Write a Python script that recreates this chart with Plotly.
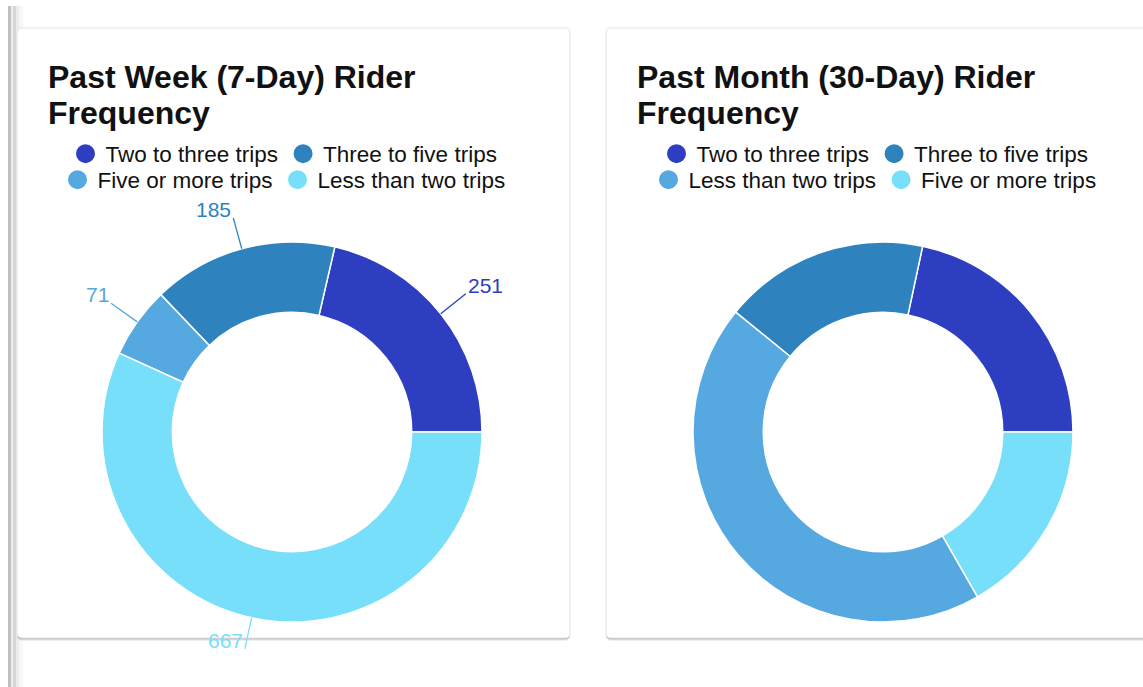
import math
import plotly.graph_objects as go

W, H = 1143, 687

# ---- data ----
week_labels = ["Two to three trips", "Three to five trips", "Five or more trips", "Less than two trips"]
week_values = [251, 185, 71, 667]
month_labels = ["Two to three trips", "Three to five trips", "Less than two trips", "Five or more trips"]
month_values = [254, 205, 518, 196]
slice_colors = ["#2d3ec0", "#2e83bf", "#56a8e0", "#77dffa"]
week_title = ["Past Week (7-Day) Rider", "Frequency"]
month_title = ["Past Month (30-Day) Rider", "Frequency"]

FONT = "Liberation Sans, Arial, Helvetica, sans-serif"


def fx(x):
    return x / W


def fy(y):
    return 1 - y / H


R = 190
HOLE = 0.63
centers = [(292, 432), (883, 432)]
cards = [(17, 28, 570, 638), (606, 28, 1170, 638)]

fig = go.Figure()

# donuts: first slice starts at 3 o'clock and runs counterclockwise
for (cx, cy), labels, values in zip(centers, [week_labels, month_labels], [week_values, month_values]):
    first_deg = values[0] / sum(values) * 360
    fig.add_trace(go.Pie(
        labels=labels, values=values, hole=HOLE, sort=False,
        direction="counterclockwise", rotation=90 - first_deg,
        marker=dict(colors=slice_colors, line=dict(color="white", width=1.5)),
        textinfo="none", showlegend=False,
        domain=dict(x=[fx(cx - R), fx(cx + R)], y=[fy(cy + R), fy(cy - R)]),
    ))

# legends (two rows per card)
legend_rows = [
    ("legend", 0, 154, week_labels[0:2], slice_colors[0:2]),
    ("legend2", 0, 180, week_labels[2:4], slice_colors[2:4]),
    ("legend3", 1, 154, month_labels[0:2], slice_colors[0:2]),
    ("legend4", 1, 180, month_labels[2:4], slice_colors[2:4]),
]
legend_layout = {}
for lname, card_i, ry, labs, cols in legend_rows:
    for lab, col in zip(labs, cols):
        fig.add_trace(go.Scatter(
            x=[None], y=[None], mode="markers", name=lab, legend=lname,
            marker=dict(size=16, color=col, symbol="circle", line=dict(color=col, width=3)),
            hoverinfo="skip", showlegend=True,
        ))
    ccx = centers[card_i][0] - 8
    legend_layout[lname] = dict(
        x=fx(ccx), y=fy(ry), xanchor="center", yanchor="middle",
        orientation="h", bgcolor="rgba(0,0,0,0)", itemwidth=30,
        font=dict(family=FONT, size=22.5, color="#111111"), traceorder="normal",
    )

shapes = []

# page left border
for x0, x1, col in [(8, 11, "#c0c0c0"), (11, 13, "#eeeeee"), (13, 16, "#d8d8d8"),
                    (16, 19, "#ececec"), (19, 23, "#f7f7f7")]:
    shapes.append(dict(type="rect", xref="paper", yref="paper", x0=fx(x0), x1=fx(x1),
                       y0=fy(H), y1=fy(6), fillcolor=col, line=dict(width=0), layer="below"))


def rounded(x0, y0, x1, y1, r):
    pts = [
        f"M {fx(x0 + r)} {fy(y0)}",
        f"L {fx(x1 - r)} {fy(y0)}",
        f"Q {fx(x1)} {fy(y0)} {fx(x1)} {fy(y0 + r)}",
        f"L {fx(x1)} {fy(y1 - r)}",
        f"Q {fx(x1)} {fy(y1)} {fx(x1 - r)} {fy(y1)}",
        f"L {fx(x0 + r)} {fy(y1)}",
        f"Q {fx(x0)} {fy(y1)} {fx(x0)} {fy(y1 - r)}",
        f"L {fx(x0)} {fy(y0 + r)}",
        f"Q {fx(x0)} {fy(y0)} {fx(x0 + r)} {fy(y0)}",
        "Z",
    ]
    return " ".join(pts)


for (x0, y0, x1, y1) in cards:
    shapes.append(dict(type="path", xref="paper", yref="paper", path=rounded(x0, y0 + 3, x1, y1 + 3, 6),
                       fillcolor="rgba(0,0,0,0.06)", line=dict(width=0), layer="below"))
    shapes.append(dict(type="path", xref="paper", yref="paper", path=rounded(x0, y0 + 1.5, x1, y1 + 1.5, 5),
                       fillcolor="rgba(0,0,0,0.22)", line=dict(width=0), layer="below"))
    shapes.append(dict(type="path", xref="paper", yref="paper", path=rounded(x0, y0, x1, y1, 5),
                       fillcolor="white", line=dict(color="#e2e2e2", width=1), layer="below"))

annotations = []

# titles
for (x0, y0, x1, y1), tlines in zip(cards, [week_title, month_title]):
    for i, t in enumerate(tlines):
        annotations.append(dict(
            text=f"<b>{t}</b>", x=fx(x0 + 29), y=fy(77 + 35.5 * i), xref="paper", yref="paper",
            xanchor="left", yanchor="middle", showarrow=False,
            font=dict(family=FONT, size=32, color="#111111"),
        ))

# value labels with leader lines (week chart only)
cx, cy = centers[0]
total = sum(week_values)
cum = 0
for v, col in zip(week_values, slice_colors):
    ang = (cum + v / 2) / total * 2 * math.pi
    cum += v
    c, s = math.cos(ang), math.sin(ang)
    ex, ey = cx + R * c, cy - R * s
    lx, ly = cx + (R + 32) * c, cy - (R + 32) * s
    shapes.append(dict(type="line", xref="paper", yref="paper", x0=fx(ex), y0=fy(ey), x1=fx(lx), y1=fy(ly),
                       line=dict(color=col, width=1.3), layer="above"))
    annotations.append(dict(
        text=str(v), x=fx(lx), y=fy(ly), xref="paper", yref="paper",
        xanchor="left" if c >= 0 else "right", yanchor="bottom", yshift=-5,
        showarrow=False, font=dict(family=FONT, size=21, color=col),
    ))

fig.update_layout(
    width=W, height=H,
    margin=dict(l=0, r=0, t=0, b=0),
    paper_bgcolor="white", plot_bgcolor="white",
    xaxis=dict(visible=False, fixedrange=True), yaxis=dict(visible=False, fixedrange=True),
    shapes=shapes, annotations=annotations,
    font=dict(family=FONT),
    **legend_layout,
)

fig.write_html(
    "out.html",
    config={"displayModeBar": False},
    post_script="document.body.style.margin='0px';document.body.style.overflow='hidden';",
)
